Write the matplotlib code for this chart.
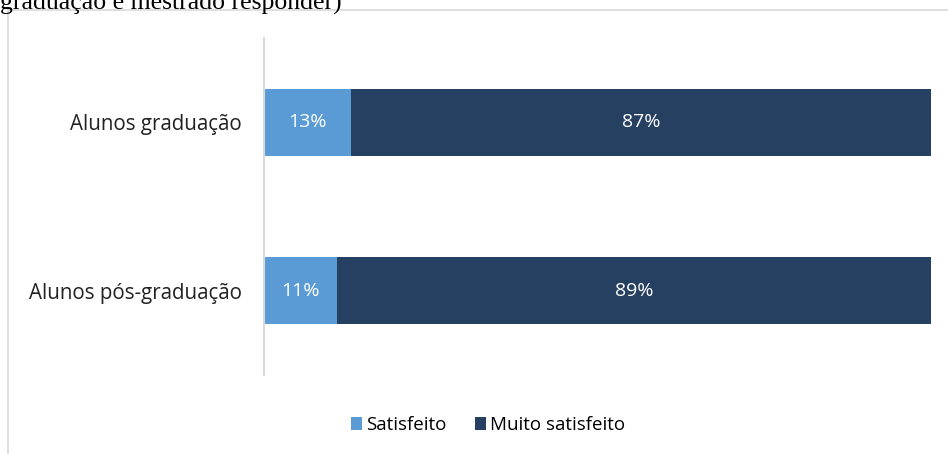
import matplotlib
matplotlib.use("Agg")
import matplotlib.pyplot as plt
from matplotlib.lines import Line2D

categories = ["Alunos graduação", "Alunos pós-graduação"]
satisfeito = [13, 11]
muito_satisfeito = [87, 89]
series_names = ["Satisfeito", "Muito satisfeito"]
colors = ["#5B9BD5", "#264061"]

fig = plt.figure(figsize=(9.48, 4.54), dpi=100)
W, H = 948, 454

# outer chart border (light gray)
fig.add_artist(Line2D([8 / W, 8 / W], [0, 1 - 10 / H], transform=fig.transFigure, color="#D9D9D9", lw=1.2))
fig.add_artist(Line2D([8 / W, 1], [1 - 10 / H, 1 - 10 / H], transform=fig.transFigure, color="#D9D9D9", lw=1.2))

# clipped heading text from document
fig.text(0.0, 1 - 3 / H, "graduação e mestrado responder)", fontsize=18.5, family="Liberation Serif",
         ha="left", va="center", color="black")

ax = fig.add_axes([264 / W, 1 - 375 / H, (931 - 264) / W, (375 - 38) / H])
y = [0, 1]
b1 = ax.barh(y, satisfeito, height=0.4, color=colors[0], label=series_names[0])
b2 = ax.barh(y, muito_satisfeito, left=satisfeito, height=0.4, color=colors[1], label=series_names[1])

for i in range(len(categories)):
    ax.text(satisfeito[i] / 2, y[i], f"{satisfeito[i]}%", ha="center", va="center", color="white",
            fontsize=14, family="Open Sans")
    ax.text(satisfeito[i] + muito_satisfeito[i] / 2, y[i], f"{muito_satisfeito[i]}%", ha="center",
            va="center", color="white", fontsize=14, family="Open Sans")

ax.set_xlim(0, 100)
ax.set_ylim(1.5, -0.5)
ax.set_yticks(y)
ax.set_yticklabels(categories, fontsize=14.8, family="Open Sans", color="#222222")
ax.tick_params(axis="y", length=0, pad=16)
ax.set_xticks([])
for s in ["top", "right", "bottom"]:
    ax.spines[s].set_visible(False)
ax.spines["left"].set_color("#D9D9D9")
ax.spines["left"].set_linewidth(1.5)

fig.legend(handles=[b1, b2], labels=series_names, loc="center", bbox_to_anchor=(488 / W, 1 - 425 / H),
           ncol=2, frameon=False, prop={"family": "Open Sans", "size": 13.5}, handlelength=0.6,
           handleheight=0.7, handletextpad=0.2, columnspacing=1.5)

fig.savefig("out.png", dpi=100)
